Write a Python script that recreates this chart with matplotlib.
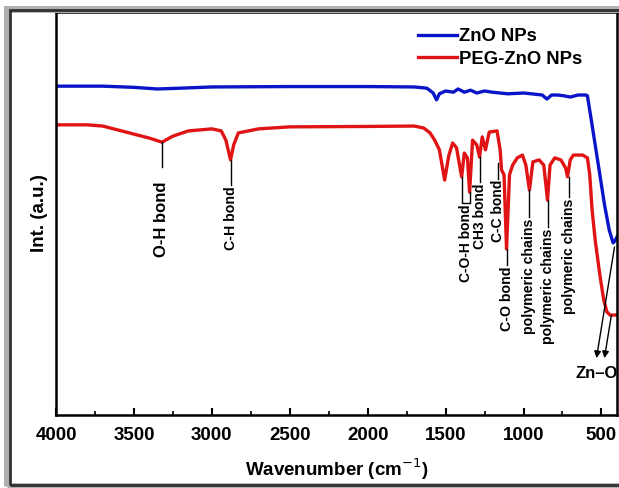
import matplotlib
matplotlib.use("Agg")
import matplotlib.pyplot as plt
from matplotlib.patches import Rectangle
from matplotlib.ticker import MultipleLocator

# ZnO NPs (blue)
zno_wn = [4000, 3700, 3500, 3350, 3200, 3000, 2500, 2000, 1700, 1620, 1580, 1558, 1540,
          1500, 1450, 1420, 1380, 1340, 1300, 1250, 1200, 1150, 1100, 1050, 1000, 950,
          880, 850, 820, 780, 740, 700, 650, 600, 590, 570, 540, 510, 480, 450, 425, 410, 400]
zno_int = [81.6, 81.6, 81.3, 80.9, 81.1, 81.4, 81.5, 81.5, 81.4, 81.1, 79.9, 78.2, 79.7,
           80.4, 80.1, 80.9, 80.1, 80.6, 79.9, 80.4, 80.1, 79.9, 79.7, 79.8, 79.9, 79.7,
           79.4, 78.4, 79.4, 79.4, 79.2, 78.9, 79.4, 79.4, 79.2, 74.4, 67.0, 59.6, 52.1, 45.9, 42.7, 43.4, 44.2]

# PEG-ZnO NPs (red)
peg_wn = [4000, 3800, 3700, 3600, 3500, 3400, 3320, 3250, 3150, 3000, 2940, 2910, 2880,
          2860, 2830, 2700, 2500, 2000, 1700, 1640, 1600, 1570, 1540, 1506, 1480, 1455,
          1430, 1397, 1380, 1360, 1346, 1327, 1300, 1282, 1265, 1244, 1220, 1170, 1150,
          1141, 1125, 1109, 1090, 1070, 1040, 1007, 985, 962, 940, 900, 870, 846, 830,
          800, 760, 730, 718, 700, 680, 620, 590, 575, 560, 540, 510, 485, 465, 445, 400]
peg_int = [72.0, 72.0, 71.7, 70.7, 69.7, 68.7, 67.7, 69.2, 70.5, 71.0, 70.5, 68.2, 63.3,
           67.0, 70.0, 71.0, 71.5, 71.6, 71.7, 71.2, 70.0, 68.2, 65.8, 58.3, 64.3, 67.5,
           66.3, 59.1, 65.0, 63.8, 55.3, 68.2, 67.0, 64.0, 69.0, 65.8, 70.2, 70.5, 65.8,
           60.8, 59.6, 41.2, 59.6, 62.0, 63.8, 64.5, 62.0, 55.8, 62.8, 63.3, 62.0, 53.3, 62.0,
           63.8, 63.3, 61.3, 59.1, 63.3, 64.5, 64.5, 63.8, 59.6, 50.9, 43.4, 34.7, 28.5, 25.6, 24.8, 24.8]

# band labels: (text, wavenumber, line top, line bottom, text top, size)
bands = [("O-H bond", 3320, 67.7, 61.5, 58.3, 12),
         ("C-H bond", 2880, 63.3, 57.1, 57.1, 10.2),
         ("CH3 bond", 1282, 64.0, 57.8, 57.8, 10),
         ("C-C bond", 1165, 62.5, 58.6, 58.6, 10),
         ("C-O bond", 1109, 41.2, 37.2, 37.2, 10.2),
         ("polymeric chains", 962, 55.8, 49.1, 49.1, 10.2),
         ("polymeric chains", 846, 53.3, 46.6, 46.6, 10.2),
         ("polymeric chains", 705, 59.1, 54.1, 54.1, 10.2)]

fig = plt.figure(figsize=(6.19, 4.88), dpi=100)
ax = fig.add_axes([0.0905, 0.1496, 0.9063, 0.8258])

ax.plot(zno_wn, zno_int, color="#0a14c8", lw=2.4, label="ZnO NPs")
ax.plot(peg_wn, peg_int, color="#e01414", lw=2.4, label="PEG-ZnO NPs")

for txt, wn, y1, y2, ytxt, fs in bands:
    ax.plot([wn, wn], [y1, y2], color="black", lw=1)
    ax.text(wn, ytxt - 0.3, txt, rotation=90, ha="center", va="top", fontsize=fs,
            fontweight="bold", family="Liberation Sans")

# C-O-H bracket over two dips
ax.plot([1397, 1397, 1346, 1346], [59.1, 52.6, 52.6, 55.3], color="black", lw=1)
ax.text(1372, 52.3, "C-O-H bond", rotation=90, ha="center", va="top", fontsize=10,
        fontweight="bold", family="Liberation Sans")

# Zn-O arrows
arrow = dict(arrowstyle="-|>", color="black", lw=1, mutation_scale=10, shrinkA=0, shrinkB=0)
ax.annotate("", xy=(532, 14.1), xytext=(416, 41.7), arrowprops=arrow)
ax.annotate("", xy=(481, 14.1), xytext=(436, 24.8), arrowprops=arrow)
ax.text(530, 10.4, "Zn\u2013O", ha="center", va="center", fontsize=12,
        fontweight="bold", family="Liberation Sans")

ax.set_xlim(4000, 400)
ax.set_ylim(0, 100)
ax.set_yticks([])
ax.xaxis.set_major_locator(MultipleLocator(500))
ax.xaxis.set_minor_locator(MultipleLocator(250))
ax.tick_params(axis="x", which="major", direction="in", length=5, width=1.5, pad=9)
ax.tick_params(axis="x", which="minor", direction="in", length=3, width=1.2)
for lab in ax.get_xticklabels():
    lab.set_fontweight("bold")
    lab.set_fontsize(13.5)
    lab.set_family("Liberation Sans")
for s in ax.spines.values():
    s.set_linewidth(1.8)

ax.set_xlabel("Wavenumber (cm$^{-1}$)", fontsize=13.5, fontweight="bold",
              family="Liberation Sans", labelpad=9)
ax.set_ylabel("Int. (a.u.)", fontsize=13.5, fontweight="bold", family="Liberation Sans",
              labelpad=6)

leg = ax.legend(loc="upper left", bbox_to_anchor=(0.645, 0.96), frameon=False,
                prop={"family": "Liberation Sans", "weight": "bold", "size": 13.3},
                handlelength=2.1, handletextpad=0.15, borderpad=0, borderaxespad=0,
                labelspacing=0.3)

# outer frame with a soft shadow
fig.patches.append(Rectangle((0.012, 0.004), 1.2, 0.978, transform=fig.transFigure,
                             fill=False, edgecolor="#b0b0b0", lw=5, zorder=0))
fig.patches.append(Rectangle((0.016, 0.006), 1.2, 0.974, transform=fig.transFigure,
                             fill=False, edgecolor="#303030", lw=2, zorder=1))

fig.savefig("out.png", dpi=100)
